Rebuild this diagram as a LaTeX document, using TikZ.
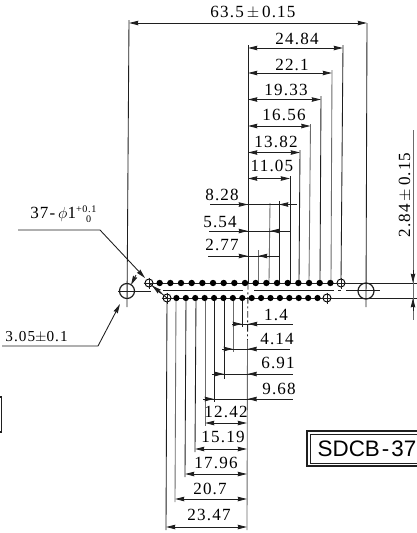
\documentclass[tikz,border=0pt]{standalone}
\usepackage{fontspec}
\setmainfont[LetterSpace=7]{Liberation Serif}
\newfontfamily\labelsans{Liberation Sans}
\usetikzlibrary{arrows.meta}
\definecolor{inkline}{gray}{0.12}
\definecolor{faintline}{gray}{0.42}
\tikzset{
  x=0.75pt,y=-0.75pt,
  ln/.style={draw=inkline,line width=0.65pt},
  ext/.style={draw=faintline,line width=0.65pt},
  arr/.style={ln,-{Stealth[length=7pt,width=3.4pt,inset=0.5pt]}},
  dimarr/.style={ln,{Stealth[length=7pt,width=3.4pt,inset=0.5pt]}-{Stealth[length=7pt,width=3.4pt,inset=0.5pt]}},
  lbl/.style={inner sep=0pt,font=\fontsize{12.8}{13}\selectfont,text=black},
  pinfill/.style={fill=black,draw=none},
  pinopen/.style={draw=black,line width=0.7pt,fill=white},
}
\begin{document}
\begin{tikzpicture}
\useasboundingbox (0,0) rectangle (417,533);
\fill[white] (0,0) rectangle (417,533);

% --- row and centre lines
\draw[ln] (149,283) -- (417,283);
\draw[ln] (167,298) -- (417,298);
\draw[ln] (163,290.5) -- (243,290.5);
\draw[ln] (254,290.5) -- (334,290.5);
\draw[ln] (338,290.5) -- (341,290.5);
\draw[ln] (346,290.5) -- (380,290.5);
\draw[ln] (118,291) -- (151,291);

% --- extension lines to the upper pins
\coordinate (rail) at (248,45);
\draw[ln] (rail) -- (248,283);
\draw[ln,dash pattern=on 5pt off 2pt on 1.5pt off 2pt] (248,283) -- (247.5,340);
\draw[ext] (247.5,340) -- (247,530);
\draw[ln] (343,45) -- (341,283);
\draw[ext] (332,70) -- (331,283);
\draw[ln] (321,96) -- (320,283);
\draw[ext] (310.5,124) -- (309,283);
\draw[ln] (300,150) -- (299,283);
\draw[ln] (290,176) -- (290,283);
\draw[ln] (279,201) -- (279,283);
\draw[ext] (270,203) -- (269,283);
\draw[ext] (258,250) -- (258,283);

% --- extension lines to the lower pins
\draw[ln] (242,298) -- (242,327);
\draw[ext] (233,298) -- (233,352);
\draw[ln] (224,298) -- (224,379);
\draw[ln] (214,298) -- (214,402);
\draw[ext] (205,298) -- (205,426);
\draw[ln] (196,298) -- (195,452);
\draw[ln] (186,298) -- (185,477);
\draw[ext] (176,298) -- (175,502);
\draw[ln] (167,298) -- (166,530);

% --- main holes
\draw[ln] (129,20) -- (127,307);
\draw[ln] (367,23) -- (366,307);
\draw[ln,line width=0.9pt] (127,291) circle[radius=7.5];
\draw[ln,line width=0.9pt] (366,291) circle[radius=8];

% --- pins
\foreach \i in {1,...,17} {
  \fill[pinfill] ({149+\i*10.67},283) circle[radius=3.2];
}
\foreach \i in {1,...,16} {
  \fill[pinfill] ({167+\i*9.41},298) circle[radius=3.1];
}
\foreach \cx/\cy in {149/283,341/283,167/298,327/298} {
  \draw[pinopen] (\cx,\cy) circle[radius=4];
  \draw[ln] (\cx-5.5,\cy) -- (\cx+5.5,\cy);
  \draw[ln] (\cx,\cy-5.5) -- (\cx,\cy+5.5);
}

% --- upper dimensions
\draw[dimarr] (129,23) -- (367,23);
\draw[dimarr] (248,48) -- (343,48);
\draw[dimarr] (248,73) -- (332,73);
\draw[dimarr] (248,99.5) -- (321,99.5);
\draw[dimarr] (248,126) -- (310.5,126);
\draw[dimarr] (248,152.5) -- (300,152.5);
\draw[dimarr] (248,178.5) -- (290,178.5);

\foreach \yy/\lx/\rx/\ex in {204.5/210/279/297,231/209/270/290,256/208/258/279} {
  \draw[ln] (\lx,\yy) -- (\ex,\yy);
  \draw[arr] (236,\yy) -- (248,\yy);
  \draw[arr] (\rx+12,\yy) -- (\rx,\yy);
}

% --- lower dimensions
\draw[ln] (232,324) -- (293,324);
\draw[arr] (232,324) -- (242,324);
\draw[arr] (259,324) -- (248,324);
\draw[ln] (224,349) -- (290,349);
\draw[arr] (222,349) -- (233,349);
\draw[arr] (259,349) -- (247.5,349);
\draw[ln] (212,374) -- (293,374);
\draw[arr] (212,374) -- (224,374);
\draw[arr] (259,374) -- (247.5,374);
\draw[ln] (203,399) -- (293,399);
\draw[arr] (203,399) -- (214,399);
\draw[arr] (259,399) -- (247.5,399);
\draw[dimarr] (205,423) -- (247,423);
\draw[dimarr] (195,449) -- (247,449);
\draw[dimarr] (185,474) -- (247,474);
\draw[dimarr] (175,499) -- (247,499);
\draw[dimarr] (166,527) -- (247,527);

% --- pitch dimension on the right
\draw[ext] (413,130) -- (413,320);
\draw[arr] (413,270) -- (413,283);
\draw[arr] (413,311) -- (413,298);

% --- leaders
\coordinate (leadA) at (18,230);
\coordinate (leadB) at (100,230);
\coordinate (leadC) at (2,346);
\coordinate (leadD) at (98,346);
\draw[arr] (leadA) -- (leadB) -- (145,278);
\draw[arr] (leadC) -- (leadD) -- (120,304);
\draw[arr] (136,275) -- (131,285);
\draw[ln] (149,283) -- (167,298);
\draw[arr,line width=1.2pt] (161,293) -- (152,285.5);

% --- labels
\node[lbl] (d635) at (253,12) {63.5\,$\pm$\,0.15};
\node[lbl] (d2484) at (297,39) {24.84};
\node[lbl] (d221) at (292,65) {22.1};
\node[lbl] (d1933) at (286,90) {19.33};
\node[lbl] (d1656) at (284,115) {16.56};
\node[lbl] (d1382) at (276,142) {13.82};
\node[lbl] (d1105) at (272,166) {11.05};
\node[lbl] (d828) at (222,195) {8.28};
\node[lbl] (d554) at (220,222) {5.54};
\node[lbl] (d277) at (222,245) {2.77};
\node[lbl] (d14) at (276,315) {1.4};
\node[lbl] (d414) at (277,339) {4.14};
\node[lbl] (d691) at (278,363) {6.91};
\node[lbl] (d968) at (279,389) {9.68};
\node[lbl] (d1242) at (226,412) {12.42};
\node[lbl] (d1519) at (223,437) {15.19};
\node[lbl] (d1796) at (216,463) {17.96};
\node[lbl] (d207) at (210,489) {20.7};
\node[lbl] (d2347) at (209,515) {23.47};
\node[lbl,font=\fontsize{11.4}{12}\selectfont] (d305) at (36.5,337) {3.05$\pm$0.1};
\node[lbl,rotate=90] (d284) at (405,195) {2.84\,$\pm$\,0.15};
\node[lbl,anchor=base west] (d37) at (30,218) {37-\,$\phi$1\raisebox{4.5pt}{\fontsize{7.6}{8}\selectfont +0.1}\llap{\raisebox{-3.5pt}{\fontsize{7.6}{8}\selectfont 0\hspace{4pt}}}};

% --- code box
\draw[ln,line width=0.8pt,fill=white] (307,431) rectangle (418,466);
\draw[ln,line width=0.6pt] (310,434) rectangle (418,463);
\node[inner sep=0pt,font=\labelsans\fontsize{16.8}{17}\selectfont] (code) at (367,449) {SDCB\kern1.5pt-\kern1.5pt37};

% --- fragment of a box at the left edge
\draw[ln,line width=0.8pt] (0,397) -- (1.5,397) -- (1.5,432) -- (0,432);
\end{tikzpicture}
\end{document}
